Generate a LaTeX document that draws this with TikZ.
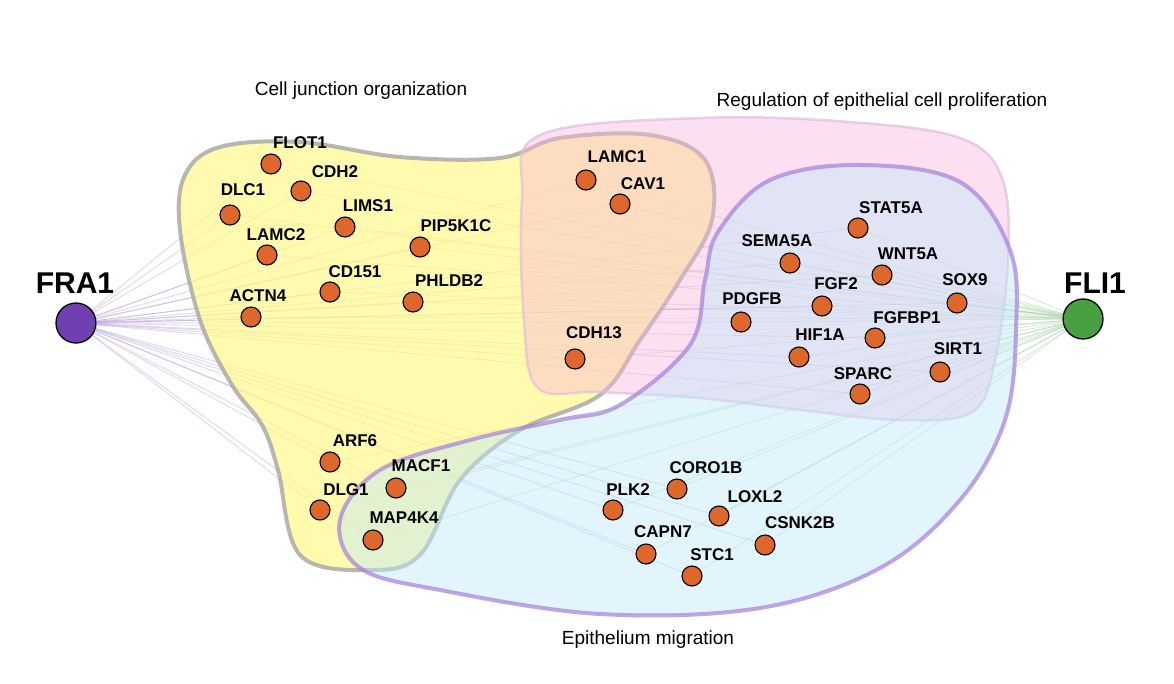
\documentclass[tikz,border=0pt]{standalone}
\usepackage{fontspec}
\setmainfont{Liberation Sans}
\usetikzlibrary{calc}
\definecolor{gene}{RGB}{222,104,44}
\definecolor{fra}{RGB}{112,64,176}
\definecolor{fli}{RGB}{72,160,64}
\tikzset{
 gene/.style={circle,draw=black,line width=1.1pt,fill=gene,minimum size=20pt,inner sep=0pt},
 glab/.style={font=\fontsize{17}{17}\selectfont\bfseries,inner sep=0pt},
 hub/.style={circle,draw=black,line width=1.3pt,minimum size=40pt,inner sep=0pt},
 hlab/.style={font=\fontsize{30}{30}\selectfont\bfseries,inner sep=0pt},
 title/.style={font=\fontsize{19}{19}\selectfont,inner sep=0pt},
 fedge/.style={fra!60,line width=0.9pt,opacity=0.35},
 gedge/.style={fli!60,line width=0.9pt,opacity=0.35},
}
\begin{document}
\begin{tikzpicture}[x=1pt,y=-1pt]
\useasboundingbox[fill=white] (0,0) rectangle (1174,684);
\node[hub,fill=fra] (FRA1) at (76,323) {};
\node[hub,fill=fli] (FLI1) at (1083,319) {};
\node[hlab] at (75,283) {FRA1};
\node[hlab] at (1095,283) {FLI1};
\foreach \n/\x/\y in {FLOT1/271/164,CDH2/301/191,DLC1/230/215,LIMS1/345/227,PIP5K1C/420/247,LAMC2/267/255,CD151/330/292,PHLDB2/413/302,ACTN4/251/317,LAMC1/586/180,CAV1/620/204,CDH13/575/359,STAT5A/858/228,SEMA5A/790/263,WNT5A/882/275,FGF2/822/306,SOX9/957/303,PDGFB/741/322,FGFBP1/875/338,HIF1A/799/357,SIRT1/940/372,SPARC/860/394,ARF6/330/462,MACF1/396/488,DLG1/320/510,MAP4K4/373/540,CORO1B/677/489,PLK2/613/510,LOXL2/719/516,CSNK2B/765/545,CAPN7/646/554,STC1/692/576}
 {\coordinate (c\n) at (\x,\y);
  \draw[fedge] (FRA1) -- (c\n);
  \draw[gedge] (FLI1) -- (c\n);}
% yellow
\draw[line width=4pt,draw=gray!70,fill=yellow!45,fill opacity=0.7,draw opacity=0.8]
 plot[smooth cycle,tension=0.6] coordinates {(185,175)(220,147)(300,142)(400,157)(500,158)(560,138)(650,135)(705,160)(712,220)(680,280)(640,340)(600,395)(520,430)(460,480)(420,555)(370,570)(300,555)(278,470)(262,425)(232,385)(200,320)(180,230)};
% pink
\draw[line width=2.5pt,draw=violet!25,fill=magenta!30,fill opacity=0.4,draw opacity=0.7]
 plot[smooth cycle,tension=0.6] coordinates {(540,135)(700,118)(850,122)(960,138)(1002,178)(1008,260)(995,360)(972,412)(900,420)(800,410)(700,398)(600,392)(538,388)(524,320)(522,200)};
% blue
\draw[line width=4pt,draw=blue!40!violet!50,fill=cyan!25,fill opacity=0.45,draw opacity=0.7]
 plot[smooth cycle,tension=0.6] coordinates {(718,232)(770,180)(860,165)(960,182)(1010,250)(1016,330)(1005,420)(960,500)(880,568)(760,608)(600,614)(440,590)(360,568)(340,520)(380,470)(470,440)(560,420)(620,405)(690,345)(705,280)};
% nodes
\foreach \n/\x/\y/\lx/\ly in {FLOT1/271/164/300/143,CDH2/301/191/335/172,DLC1/230/215/243/190,LIMS1/345/227/368/206,PIP5K1C/420/247/456/226,LAMC2/267/255/276/235,CD151/330/292/355/272,PHLDB2/413/302/449/281,ACTN4/251/317/258/296,LAMC1/586/180/617/157,CAV1/620/204/643/184,CDH13/575/359/594/333,STAT5A/858/228/891/208,SEMA5A/790/263/777/241,WNT5A/882/275/908/254,FGF2/822/306/836/284,SOX9/957/303/965/280,PDGFB/741/322/752/299,FGFBP1/875/338/907/318,HIF1A/799/357/820/335,SIRT1/940/372/958/349,SPARC/860/394/863/374,ARF6/330/462/355/441,MACF1/396/488/421/466,DLG1/320/510/346/490,MAP4K4/373/540/404/518,CORO1B/677/489/706/468,PLK2/613/510/628/490,LOXL2/719/516/755/497,CSNK2B/765/545/800/523,CAPN7/646/554/663/532,STC1/692/576/712/555}
 {\node[gene] (\n) at (c\n) {};
  \node[glab] (l\n) at (\lx,\ly) {\n};}
\node[title] (t1) at (361,91) {Cell junction organization};
\node[title] (t2) at (882,102) {Regulation of epithelial cell proliferation};
\node[title] (t3) at (648,640) {Epithelium migration};
\end{tikzpicture}
\end{document}
